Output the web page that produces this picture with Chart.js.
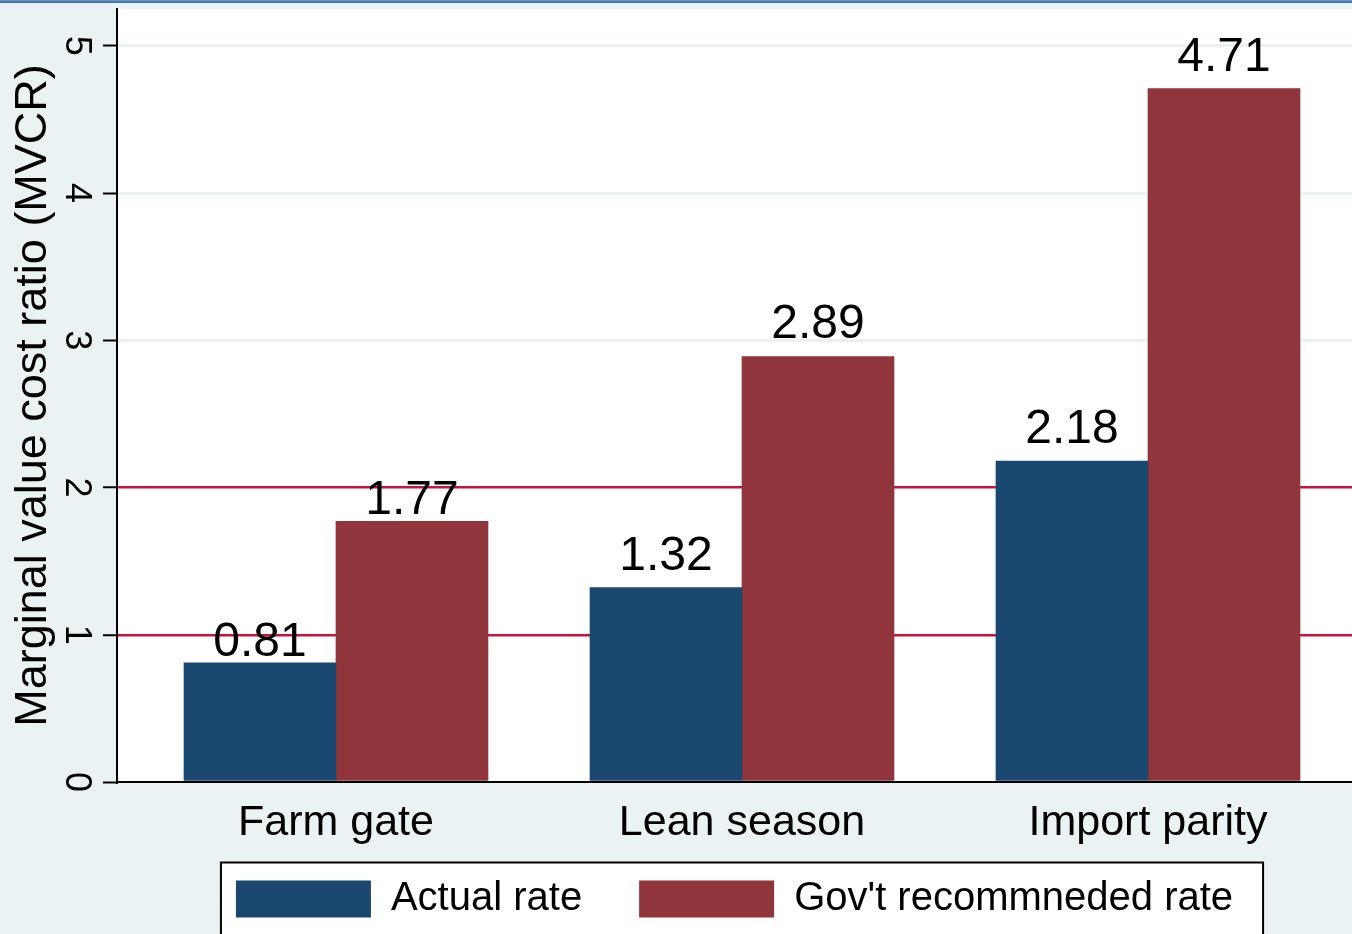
<!DOCTYPE html>
<html>
<head>
<meta charset="utf-8">
<script src="https://cdn.jsdelivr.net/npm/chart.js@4.4.1/dist/chart.umd.min.js"></script>
<style>
  html, body { margin: 0; padding: 0; background: #eaf2f3; overflow: hidden; width: 1352px; height: 934px; }
  #topbar { position: absolute; left: 0; top: 0; width: 1352px; height: 3px; background: linear-gradient(#6a98cc, #3b6aa3); z-index: 2; }
  #wrap { position: absolute; left: 0; top: 0; width: 1372px; height: 960px; }
</style>
</head>
<body>
<div id="topbar"></div>
<div id="wrap"><canvas id="c" width="1372" height="960"></canvas></div>
<script>
// ---- data ----
const categories = ['Farm gate', 'Lean season', 'Import parity'];
const seriesNames = ['Actual rate', "Gov't recommneded rate"];
const actualRate = [0.81, 1.32, 2.18];
const govRecommendedRate = [1.77, 2.89, 4.71];
const yTicks = [0, 1, 2, 3, 4, 5];
const referenceLines = [1, 2];

// ---- styles ----
const FONT = "'Liberation Sans', Arial, Helvetica, sans-serif";
const BLUE = '#1a476f';
const MAROON = '#90353b';
const REFRED = '#c8143c';
const GRIDLIGHT = '#eaf2f3';
const Y_MAX = 5.25;
const X_START = -0.5394, X_RANGE = 3.0813;   // Stata-like outer gaps
const LABEL_GAP = [7, 18, 18];                 // gap between bar top and value label (px)
const X_AXIS_H = 68;
const LEGEND_TOP_FROM_AXIS = 40;

Chart.defaults.font.family = FONT;
Chart.defaults.color = '#000';

const plotBg = {
  id: 'plotBg',
  beforeDraw(chart) {
    const {ctx, chartArea: a} = chart;
    ctx.save();
    ctx.fillStyle = '#ffffff';
    ctx.fillRect(a.left, a.top, a.right - a.left, a.bottom - a.top);
    ctx.restore();
  }
};

function legendFrame(chart) {
  const lg = chart.legend;
  if (!lg || !lg.legendHitBoxes || !lg.legendHitBoxes.length) return null;
  const hb = lg.legendHitBoxes;
  const first = hb[0], last = hb[hb.length - 1];
  return {
    x0: first.left - 15, x1: last.left + last.width + 30,
    y0: first.top - 16.5, y1: first.top + first.height + 18
  };
}

const legendPlace = {
  id: 'legendPlace',
  afterLayout(chart) {
    const lg = chart.legend;
    if (!lg) return;
    lg.left = chart.chartArea.left - 16;
    lg.right = chart.chartArea.right;
    const h = lg.height;
    lg.top = chart.chartArea.bottom + LEGEND_TOP_FROM_AXIS;
    lg.bottom = lg.top + h;
  },
  beforeDraw(chart) {
    const f = legendFrame(chart);
    if (!f) return;
    const ctx = chart.ctx;
    ctx.save();
    ctx.fillStyle = '#ffffff';
    ctx.fillRect(f.x0, f.y0, f.x1 - f.x0, f.y1 - f.y0);
    ctx.restore();
  },
  afterDraw(chart) {
    const f = legendFrame(chart);
    if (!f) return;
    const ctx = chart.ctx;
    ctx.save();
    ctx.strokeStyle = '#000';
    ctx.lineWidth = 2;
    ctx.strokeRect(f.x0, f.y0, f.x1 - f.x0, f.y1 - f.y0);
    ctx.restore();
  }
};

const valueLabels = {
  id: 'valueLabels',
  afterDatasetsDraw(chart) {
    const ctx = chart.ctx;
    ctx.save();
    ctx.font = '48px ' + FONT;
    ctx.fillStyle = '#000';
    ctx.textAlign = 'center';
    ctx.textBaseline = 'alphabetic';
    chart.data.datasets.forEach((ds, i) => {
      const meta = chart.getDatasetMeta(i);
      meta.data.forEach((bar, j) => {
        ctx.fillText(Number(ds.data[j]).toFixed(2), bar.x, bar.y - LABEL_GAP[j]);
      });
    });
    ctx.restore();
  }
};

new Chart(document.getElementById('c'), {
  type: 'bar',
  data: {
    labels: categories,
    datasets: [
      { label: seriesNames[0], data: actualRate, backgroundColor: BLUE, borderWidth: 0 },
      { label: seriesNames[1], data: govRecommendedRate, backgroundColor: MAROON, borderWidth: 0 }
    ]
  },
  options: {
    responsive: false,
    animation: false,
    devicePixelRatio: 1,
    layout: { padding: { top: 9, left: 0, right: 4, bottom: 3 } },
    datasets: { bar: { barThickness: 152 } },
    plugins: {
      tooltip: { enabled: false },
      legend: {
        position: 'bottom',
        labels: {
          boxWidth: 135,
          boxHeight: 37,
          padding: 57,
          color: '#000',
          font: { size: 40, family: FONT }
        }
      }
    },
    scales: {
      x: {
        type: 'category',
        offset: true,
        grid: { display: false, drawTicks: false },
        border: { display: true, color: '#000', width: 2 },
        ticks: { color: '#000', padding: 15, font: { size: 43, family: FONT }, maxRotation: 0, minRotation: 0 },
        afterBuildTicks(s) { s._startValue = X_START; s._valueRange = X_RANGE; },
        afterFit(s) { s.height = X_AXIS_H; s.paddingLeft = 0; s.paddingRight = 0; }
      },
      y: {
        min: 0,
        max: Y_MAX,
        afterBuildTicks(s) { s.ticks = yTicks.map(v => ({ value: v })); },
        afterFit(s) { s.width = 117; s.paddingTop = 0; s.paddingBottom = 0; },
        border: { display: true, color: '#000', width: 2 },
        grid: {
          drawOnChartArea: true,
          drawTicks: true,
          tickLength: 14,
          tickWidth: 2,
          tickColor: '#000',
          color: c => {
            const v = c.tick ? c.tick.value : null;
            if (referenceLines.includes(v)) return REFRED;
            if (v === 0) return 'rgba(0,0,0,0)';
            return GRIDLIGHT;
          },
          lineWidth: c => {
            const v = c.tick ? c.tick.value : null;
            return referenceLines.includes(v) ? 2.5 : 3;
          }
        },
        ticks: {
          color: '#000',
          padding: 17,
          crossAlign: 'center',
          minRotation: -90,
          maxRotation: -90,
          font: { size: 36, family: FONT },
          callback: v => String(v)
        },
        title: {
          display: true,
          text: 'Marginal value cost ratio (MVCR)',
          color: '#000',
          font: { size: 45, family: FONT },
          padding: { top: 7, bottom: 0 }
        }
      }
    }
  },
  plugins: [plotBg, legendPlace, valueLabels]
});
</script>
</body>
</html>
